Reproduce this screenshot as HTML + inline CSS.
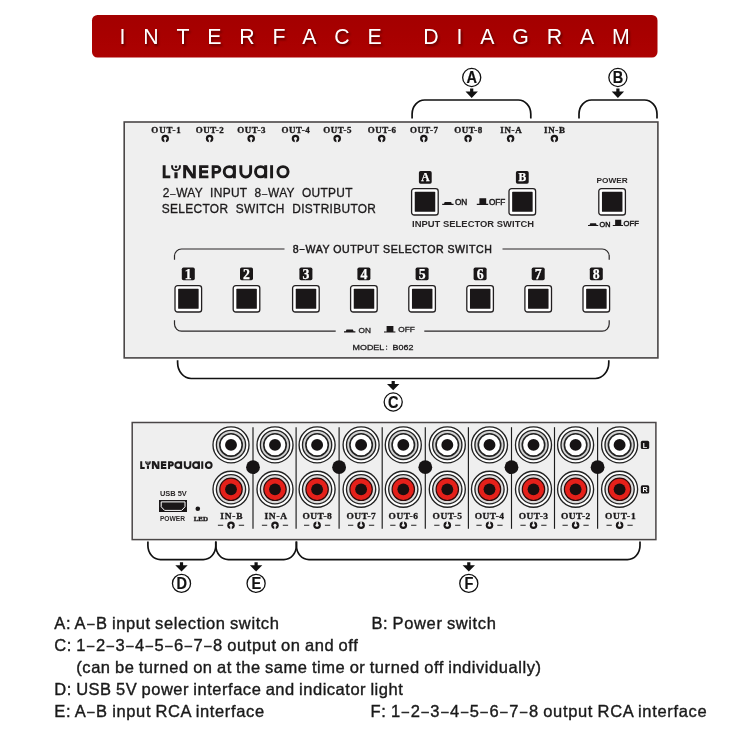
<!DOCTYPE html>
<html><head><meta charset="utf-8"><title>Interface Diagram</title>
<style>
html,body{margin:0;padding:0;background:#fff;}
body{width:750px;height:750px;overflow:hidden;font-family:"Liberation Sans",sans-serif;}
svg{display:block;font-family:"Liberation Sans",sans-serif;will-change:transform;}
</style></head><body>
<svg width="750" height="750" viewBox="0 0 750 750">
<defs>
<linearGradient id="bg" x1="0" y1="0" x2="0" y2="1"><stop offset="0" stop-color="#a30000"/><stop offset="0.5" stop-color="#a80000"/><stop offset="1" stop-color="#ad0202"/></linearGradient>
<filter id="ts" x="-20%" y="-20%" width="140%" height="160%"><feGaussianBlur stdDeviation="0.8"/></filter>
<g id="logo" fill="none" stroke="#1c1a1b" stroke-width="2.9" stroke-linecap="butt" stroke-linejoin="miter">
 <path d="M1.45 0 V11.65 H7.6"/>
 <path d="M9.4 0 V1.2 A3.9 3.9 0 0 0 17.2 1.2 V0" stroke-width="2"/>
 <circle cx="13.3" cy="1.6" r="1.25" fill="#1c1a1b" stroke="none"/>
 <path d="M13.3 7.1 V13.1" stroke-width="3.2"/>
 <path d="M21.95 0 V13.1 M31.65 0 V13.1"/>
 <path d="M20.5 0 h3.9 L33.1 13.1 h-3.9 Z" fill="#1c1a1b" stroke="none"/>
 <path d="M45.7 1.45 H37.85 V11.65 H45.7 M37.85 6.55 H45.3"/>
 <path d="M50.45 13.1 V1.45 H54.3 A2.85 2.85 0 0 1 54.3 7.15 H50.45"/>
 <circle cx="66.6" cy="6.55" r="5.1"/><path d="M71.7 0 V13.1"/>
 <path d="M78.15 0 V6.9 A4.9 4.9 0 0 0 87.95 6.9 V0"/>
 <circle cx="97.9" cy="6.55" r="5.1"/><path d="M103 0 V13.1"/>
 <path d="M108.9 0 V13.1"/>
 <circle cx="120.3" cy="6.55" r="5.1"/>
</g>
<g id="logo2" fill="none" stroke="#1c1a1b" stroke-width="3.5" stroke-linecap="butt" stroke-linejoin="miter">
 <path d="M1.45 0 V11.65 H7.6"/>
 <path d="M9.6 0 V1.3 A3.7 3.7 0 0 0 17 1.3 V0" stroke-width="2.5"/>
 <circle cx="13.3" cy="1.7" r="1.4" fill="#1c1a1b" stroke="none"/>
 <path d="M13.3 7.1 V13.1" stroke-width="3.7"/>
 <path d="M21.95 0 V13.1 M31.65 0 V13.1"/>
 <path d="M20.5 0 h4.6 L33.1 13.1 h-4.6 Z" fill="#1c1a1b" stroke="none"/>
 <path d="M45.7 1.45 H37.85 V11.65 H45.7 M37.85 6.55 H45.3"/>
 <path d="M50.45 13.1 V1.45 H54.3 A2.85 2.85 0 0 1 54.3 7.15 H50.45"/>
 <circle cx="66.6" cy="6.55" r="5.1"/><path d="M71.7 0 V13.1"/>
 <path d="M78.15 0 V6.9 A4.9 4.9 0 0 0 87.95 6.9 V0"/>
 <circle cx="97.9" cy="6.55" r="5.1"/><path d="M103 0 V13.1"/>
 <path d="M108.9 0 V13.1"/>
 <circle cx="120.3" cy="6.55" r="5.1"/>
</g>
<g id="sw"><rect x="0.6" y="0.6" width="26.6" height="26.4" rx="2.6" fill="#fff" stroke="#221f20" stroke-width="1.3"/><rect x="3.75" y="3.85" width="20.5" height="19.9" rx="0.6" fill="#1a1718"/></g>
<g id="ledin"><circle r="3.75" fill="#1a1718"/><circle r="1.55" fill="#efefef"/><rect x="-0.75" y="0" width="1.5" height="4" fill="#efefef"/></g>
<g id="ledout"><circle r="3.75" fill="#1a1718"/><circle r="1.55" fill="#efefef"/><rect x="-0.75" y="-4" width="1.5" height="4" fill="#efefef"/></g>
<g id="arrow"><path d="M-1.6 0.6 H1.6 V3.6 H6.2 L0 9.9 L-6.2 3.6 H-1.6 Z" fill="#111"/></g>
<g id="jackw"><circle r="18" fill="#fff" stroke="#222" stroke-width="1.35"/><circle r="14.6" fill="#d2d2d2" stroke="#222" stroke-width="1.35"/><circle r="11.2" fill="#fff" stroke="#222" stroke-width="1.6"/><circle r="5.95" fill="#161314"/></g>
<g id="jackr"><circle r="18" fill="#fff" stroke="#222" stroke-width="1.35"/><circle r="14.6" fill="#dcdcdc" stroke="#222" stroke-width="1.35"/><circle r="11.2" fill="#e5201a" stroke="#2a0a0a" stroke-width="1.2"/><circle r="5.9" fill="#1a0f0f"/></g>
<g id="ion"><path d="M0 3.5 H11.4 V2.4 H9.6 L8.9 0.5 H2.5 L1.8 2.4 H0 Z" fill="#1a1718"/></g>
<g id="ioff"><path d="M0 6.6 H11.4 V5.4 H9.4 V0 H2.6 V5.4 H0 Z" fill="#1a1718"/></g>
</defs>
<rect x="92" y="15" width="565.5" height="42.5" rx="5.5" fill="url(#bg)"/>
<text x="120.8" y="45.9" font-size="21.3" letter-spacing="17.85" fill="#400" opacity="0.75" filter="url(#ts)">INTERFACE DIAGRAM</text>
<text x="119.4" y="44.3" font-size="21.3" letter-spacing="17.85" fill="#fff">INTERFACE DIAGRAM</text>
<path d="M412.1 118.6 V114 A12.5 14 0 0 1 424.6 100 H518.3 A12.5 14 0 0 1 530.8 114 V118.6" fill="none" stroke="#111" stroke-width="1.7"/>
<path d="M579 118.6 V114 A12.5 14 0 0 1 591.5 100 H644.5 A12.5 14 0 0 1 657 114 V118.6" fill="none" stroke="#111" stroke-width="1.7"/>
<circle cx="471.7" cy="77.5" r="9.05" fill="#fff" stroke="#111" stroke-width="1.3"/><text transform="translate(471.85,83.10) scale(0.92,1)" text-anchor="middle" font-size="15.8" font-weight="bold" fill="#111" stroke="#111" stroke-width="0.2">A</text>
<use href="#arrow" x="471.7" y="88"/>
<circle cx="617.9" cy="77.5" r="9.05" fill="#fff" stroke="#111" stroke-width="1.3"/><text transform="translate(618.05,83.10) scale(0.92,1)" text-anchor="middle" font-size="15.8" font-weight="bold" fill="#111" stroke="#111" stroke-width="0.2">B</text>
<use href="#arrow" x="617.9" y="88"/>
<rect x="124.2" y="122" width="533.7" height="235.9" fill="#efefef" stroke="#4a4647" stroke-width="1.6"/>
<text transform="translate(151.3,132.7) scale(1.15,1)" font-family="Liberation Serif" font-weight="bold" font-size="7.8" letter-spacing="0.76" fill="#1c1a1b" stroke="#1c1a1b" stroke-width="0.3">OUT-1</text>
<use href="#ledin" x="165.2" y="138.6"/>
<text transform="translate(195.7,132.7) scale(1.15,1)" font-family="Liberation Serif" font-weight="bold" font-size="7.8" letter-spacing="0.45" fill="#1c1a1b" stroke="#1c1a1b" stroke-width="0.3">OUT-2</text>
<use href="#ledin" x="209.6" y="138.6"/>
<text transform="translate(237.3,132.7) scale(1.15,1)" font-family="Liberation Serif" font-weight="bold" font-size="7.8" letter-spacing="0.45" fill="#1c1a1b" stroke="#1c1a1b" stroke-width="0.3">OUT-3</text>
<use href="#ledin" x="251.2" y="138.6"/>
<text transform="translate(281.6,132.7) scale(1.15,1)" font-family="Liberation Serif" font-weight="bold" font-size="7.8" letter-spacing="0.45" fill="#1c1a1b" stroke="#1c1a1b" stroke-width="0.3">OUT-4</text>
<use href="#ledin" x="295.5" y="138.6"/>
<text transform="translate(323.3,132.7) scale(1.15,1)" font-family="Liberation Serif" font-weight="bold" font-size="7.8" letter-spacing="0.45" fill="#1c1a1b" stroke="#1c1a1b" stroke-width="0.3">OUT-5</text>
<use href="#ledin" x="337.2" y="138.6"/>
<text transform="translate(367.8,132.7) scale(1.15,1)" font-family="Liberation Serif" font-weight="bold" font-size="7.8" letter-spacing="0.45" fill="#1c1a1b" stroke="#1c1a1b" stroke-width="0.3">OUT-6</text>
<use href="#ledin" x="381.7" y="138.6"/>
<text transform="translate(409.9,132.7) scale(1.15,1)" font-family="Liberation Serif" font-weight="bold" font-size="7.8" letter-spacing="0.45" fill="#1c1a1b" stroke="#1c1a1b" stroke-width="0.3">OUT-7</text>
<use href="#ledin" x="423.8" y="138.6"/>
<text transform="translate(454.2,132.7) scale(1.15,1)" font-family="Liberation Serif" font-weight="bold" font-size="7.8" letter-spacing="0.45" fill="#1c1a1b" stroke="#1c1a1b" stroke-width="0.3">OUT-8</text>
<use href="#ledin" x="468.1" y="138.6"/>
<text transform="translate(500.3,132.7) scale(1.15,1)" font-family="Liberation Serif" font-weight="bold" font-size="7.8" letter-spacing="0.56" fill="#1c1a1b" stroke="#1c1a1b" stroke-width="0.3">IN-A</text>
<use href="#ledin" x="510.6" y="138.6"/>
<text transform="translate(544.1,132.7) scale(1.15,1)" font-family="Liberation Serif" font-weight="bold" font-size="7.8" letter-spacing="0.56" fill="#1c1a1b" stroke="#1c1a1b" stroke-width="0.3">IN-B</text>
<use href="#ledin" x="554.4" y="138.6"/>
<use href="#logo" x="162.7" y="165.2"/>
<text x="162.7" y="197.3" font-size="11.9" letter-spacing="0.33" word-spacing="3.75" fill="#1c1a1b" stroke="#1c1a1b" stroke-width="0.3">2<tspan font-size="9.3" dy="-0.7" dx="0.5">–</tspan><tspan dy="0.7" dx="0.5">WAY</tspan> INPUT 8<tspan font-size="9.3" dy="-0.7" dx="0.5">–</tspan><tspan dy="0.7" dx="0.5">WAY</tspan> OUTPUT</text>
<text x="161.8" y="212.7" font-size="11.9" letter-spacing="0.33" word-spacing="3.9" fill="#1c1a1b" stroke="#1c1a1b" stroke-width="0.3">SELECTOR SWITCH DISTRIBUTOR</text>
<rect x="418.9" y="171.1" width="12.8" height="12.6" rx="1.7" fill="#1a1718"/><text x="425.3" y="181.3" text-anchor="middle" font-family="Liberation Serif" font-weight="bold" font-size="11.5" fill="#fff" stroke="#fff" stroke-width="0.25">A</text>
<rect x="515.9" y="171.1" width="12.8" height="12.6" rx="1.7" fill="#1a1718"/><text x="522.3" y="181.3" text-anchor="middle" font-family="Liberation Serif" font-weight="bold" font-size="11.5" fill="#fff" stroke="#fff" stroke-width="0.25">B</text>
<use href="#sw" x="411" y="188"/>
<use href="#sw" x="508.4" y="188"/>
<use href="#ion" x="442.2" y="201.4"/>
<text x="454.9" y="205.3" font-size="8.6" textLength="12.4" lengthAdjust="spacingAndGlyphs" fill="#1c1a1b" stroke="#1c1a1b" stroke-width="0.45">ON</text>
<use href="#ioff" x="476.8" y="198.3"/>
<text x="488.9" y="204.8" font-size="8.6" textLength="16.4" lengthAdjust="spacingAndGlyphs" fill="#1c1a1b" stroke="#1c1a1b" stroke-width="0.45">OFF</text>
<text x="412" y="227.4" font-size="9.4" font-weight="bold" textLength="122" lengthAdjust="spacing" fill="#2a2728">INPUT SELECTOR SWITCH</text>
<text x="596.6" y="182.8" font-size="7.9" font-weight="bold" textLength="31.2" lengthAdjust="spacingAndGlyphs" fill="#2a2728">POWER</text>
<use href="#sw" x="598.2" y="188"/>
<g transform="translate(588,222.9) scale(0.9)"><use href="#ion"/></g>
<text x="599.6" y="226.6" font-size="7.8" textLength="10.8" lengthAdjust="spacingAndGlyphs" fill="#1c1a1b" stroke="#1c1a1b" stroke-width="0.5">ON</text>
<g transform="translate(612.8,219.8) scale(0.9,0.95)"><use href="#ioff"/></g>
<text x="623.6" y="226.1" font-size="7.8" textLength="15.2" lengthAdjust="spacingAndGlyphs" fill="#1c1a1b" stroke="#1c1a1b" stroke-width="0.5">OFF</text>
<path d="M174.5 259.8 V256 A7 7 0 0 1 181.5 249 H284.5" fill="none" stroke="#2a2728" stroke-width="1.2"/>
<path d="M502.5 249 H602.2 A7 7 0 0 1 609.2 256 V259.8" fill="none" stroke="#2a2728" stroke-width="1.2"/>
<path d="M174.5 320.3 V324.1 A7 7 0 0 0 181.5 331.1 H335.7" fill="none" stroke="#2a2728" stroke-width="1.2"/>
<path d="M424.3 331.1 H602.2 A7 7 0 0 0 609.2 324.1 V320.3" fill="none" stroke="#2a2728" stroke-width="1.2"/>
<text x="292.8" y="253" font-size="10.6" textLength="199" lengthAdjust="spacing" fill="#1c1a1b" stroke="#1c1a1b" stroke-width="0.45">8<tspan font-size="8.3" dy="-0.7" dx="0.6">–</tspan><tspan dy="0.7" dx="0.6">WAY</tspan> OUTPUT SELECTOR SWITCH</text>
<use href="#sw" x="174.4" y="285"/>
<rect x="181.8" y="267.5" width="13" height="12.8" rx="1.7" fill="#1a1718"/><text x="188.3" y="278.5" text-anchor="middle" font-family="Liberation Serif" font-weight="bold" font-size="13.8" fill="#fff" stroke="#fff" stroke-width="0.25">1</text>
<use href="#sw" x="232.6" y="285"/>
<rect x="240.0" y="267.5" width="13" height="12.8" rx="1.7" fill="#1a1718"/><text x="246.5" y="278.5" text-anchor="middle" font-family="Liberation Serif" font-weight="bold" font-size="13.8" fill="#fff" stroke="#fff" stroke-width="0.25">2</text>
<use href="#sw" x="292.0" y="285"/>
<rect x="299.4" y="267.5" width="13" height="12.8" rx="1.7" fill="#1a1718"/><text x="305.9" y="278.5" text-anchor="middle" font-family="Liberation Serif" font-weight="bold" font-size="13.8" fill="#fff" stroke="#fff" stroke-width="0.25">3</text>
<use href="#sw" x="350.0" y="285"/>
<rect x="357.4" y="267.5" width="13" height="12.8" rx="1.7" fill="#1a1718"/><text x="363.9" y="278.5" text-anchor="middle" font-family="Liberation Serif" font-weight="bold" font-size="13.8" fill="#fff" stroke="#fff" stroke-width="0.25">4</text>
<use href="#sw" x="408.2" y="285"/>
<rect x="415.6" y="267.5" width="13" height="12.8" rx="1.7" fill="#1a1718"/><text x="422.1" y="278.5" text-anchor="middle" font-family="Liberation Serif" font-weight="bold" font-size="13.8" fill="#fff" stroke="#fff" stroke-width="0.25">5</text>
<use href="#sw" x="466.2" y="285"/>
<rect x="473.6" y="267.5" width="13" height="12.8" rx="1.7" fill="#1a1718"/><text x="480.1" y="278.5" text-anchor="middle" font-family="Liberation Serif" font-weight="bold" font-size="13.8" fill="#fff" stroke="#fff" stroke-width="0.25">6</text>
<use href="#sw" x="524.3" y="285"/>
<rect x="531.7" y="267.5" width="13" height="12.8" rx="1.7" fill="#1a1718"/><text x="538.2" y="278.5" text-anchor="middle" font-family="Liberation Serif" font-weight="bold" font-size="13.8" fill="#fff" stroke="#fff" stroke-width="0.25">7</text>
<use href="#sw" x="582.4" y="285"/>
<rect x="589.8" y="267.5" width="13" height="12.8" rx="1.7" fill="#1a1718"/><text x="596.3" y="278.5" text-anchor="middle" font-family="Liberation Serif" font-weight="bold" font-size="13.8" fill="#fff" stroke="#fff" stroke-width="0.25">8</text>
<use href="#ion" x="344" y="328.9"/>
<text x="358.6" y="333" font-size="8" textLength="12.4" lengthAdjust="spacingAndGlyphs" fill="#1c1a1b" stroke="#1c1a1b" stroke-width="0.3">ON</text>
<use href="#ioff" x="384" y="326"/>
<text x="398.3" y="332.2" font-size="8" textLength="16.6" lengthAdjust="spacingAndGlyphs" fill="#1c1a1b" stroke="#1c1a1b" stroke-width="0.3">OFF</text>
<text x="352.6" y="350" font-size="8.1" textLength="31.6" lengthAdjust="spacingAndGlyphs" fill="#1c1a1b" stroke="#1c1a1b" stroke-width="0.3">MODEL</text>
<circle cx="386.6" cy="346.2" r="0.6" fill="#1c1a1b"/><circle cx="386.6" cy="349.2" r="0.6" fill="#1c1a1b"/>
<text x="392.6" y="350" font-size="8.1" textLength="20.8" lengthAdjust="spacingAndGlyphs" fill="#1c1a1b" stroke="#1c1a1b" stroke-width="0.3">B062</text>
<path d="M177.6 360.3 V362.5 A13.5 16 0 0 0 191.1 378.5 H595.3 A13.5 16 0 0 0 608.8 362.5 V360.3" fill="none" stroke="#111" stroke-width="1.7"/>
<use href="#arrow" x="393.2" y="380.3"/>
<circle cx="393.2" cy="402" r="9.05" fill="#fff" stroke="#111" stroke-width="1.3"/><text transform="translate(393.35,407.60) scale(0.92,1)" text-anchor="middle" font-size="15.8" font-weight="bold" fill="#111" stroke="#111" stroke-width="0.2">C</text>
<rect x="132.2" y="422.5" width="523.7" height="117.1" fill="#efefef" stroke="#4a4647" stroke-width="1.5"/>
<g transform="translate(140.4,461.3) scale(0.568,0.58)"><use href="#logo2"/></g>
<path d="M253.0 427.2 V528.8" stroke="#1c1c1c" stroke-width="1.15"/>
<circle cx="253.0" cy="467.2" r="6.9" fill="#161314"/>
<path d="M296.1 427.2 V528.8" stroke="#1c1c1c" stroke-width="1.15"/>
<path d="M339.1 427.2 V528.8" stroke="#1c1c1c" stroke-width="1.15"/>
<circle cx="339.1" cy="467.2" r="6.9" fill="#161314"/>
<path d="M382.2 427.2 V528.8" stroke="#1c1c1c" stroke-width="1.15"/>
<path d="M425.3 427.2 V528.8" stroke="#1c1c1c" stroke-width="1.15"/>
<circle cx="425.3" cy="467.2" r="6.9" fill="#161314"/>
<path d="M468.4 427.2 V528.8" stroke="#1c1c1c" stroke-width="1.15"/>
<path d="M511.5 427.2 V528.8" stroke="#1c1c1c" stroke-width="1.15"/>
<circle cx="511.5" cy="467.2" r="6.9" fill="#161314"/>
<path d="M554.5 427.2 V528.8" stroke="#1c1c1c" stroke-width="1.15"/>
<path d="M597.6 427.2 V528.8" stroke="#1c1c1c" stroke-width="1.15"/>
<circle cx="597.6" cy="467.2" r="6.9" fill="#161314"/>
<use href="#jackw" x="231.0" y="444.9"/>
<use href="#jackr" x="231.0" y="489.3"/>
<text transform="translate(220.3,518.7) scale(1.15,1)" font-family="Liberation Serif" font-weight="bold" font-size="8.2" letter-spacing="0.66" fill="#1c1a1b" stroke="#1c1a1b" stroke-width="0.3">IN-B</text>
<g transform="translate(231.0,525.3) scale(1.0)"><use href="#ledin"/></g>
<path d="M217.9 525.3 h5.3 M238.8 525.3 h5.3" stroke="#222" stroke-width="1.1"/>
<use href="#jackw" x="275.0" y="444.9"/>
<use href="#jackr" x="275.0" y="489.3"/>
<text transform="translate(264.4,518.7) scale(1.15,1)" font-family="Liberation Serif" font-weight="bold" font-size="8.2" letter-spacing="0.66" fill="#1c1a1b" stroke="#1c1a1b" stroke-width="0.3">IN-A</text>
<g transform="translate(275.0,525.3) scale(1.0)"><use href="#ledin"/></g>
<path d="M261.9 525.3 h5.3 M282.8 525.3 h5.3" stroke="#222" stroke-width="1.1"/>
<use href="#jackw" x="317.1" y="444.9"/>
<use href="#jackr" x="317.1" y="489.3"/>
<text transform="translate(302.4,518.7) scale(1.15,1)" font-family="Liberation Serif" font-weight="bold" font-size="8.2" letter-spacing="0.42" fill="#1c1a1b" stroke="#1c1a1b" stroke-width="0.3">OUT-8</text>
<g transform="translate(317.1,525.3) scale(1.0)"><use href="#ledout"/></g>
<path d="M304.0 525.3 h5.3 M324.9 525.3 h5.3" stroke="#222" stroke-width="1.1"/>
<use href="#jackw" x="361.1" y="444.9"/>
<use href="#jackr" x="361.1" y="489.3"/>
<text transform="translate(346.4,518.7) scale(1.15,1)" font-family="Liberation Serif" font-weight="bold" font-size="8.2" letter-spacing="0.42" fill="#1c1a1b" stroke="#1c1a1b" stroke-width="0.3">OUT-7</text>
<g transform="translate(361.1,525.3) scale(1.0)"><use href="#ledout"/></g>
<path d="M348.0 525.3 h5.3 M368.9 525.3 h5.3" stroke="#222" stroke-width="1.1"/>
<use href="#jackw" x="403.3" y="444.9"/>
<use href="#jackr" x="403.3" y="489.3"/>
<text transform="translate(388.6,518.7) scale(1.15,1)" font-family="Liberation Serif" font-weight="bold" font-size="8.2" letter-spacing="0.42" fill="#1c1a1b" stroke="#1c1a1b" stroke-width="0.3">OUT-6</text>
<g transform="translate(403.3,525.3) scale(1.0)"><use href="#ledout"/></g>
<path d="M390.2 525.3 h5.3 M411.1 525.3 h5.3" stroke="#222" stroke-width="1.1"/>
<use href="#jackw" x="447.3" y="444.9"/>
<use href="#jackr" x="447.3" y="489.3"/>
<text transform="translate(432.6,518.7) scale(1.15,1)" font-family="Liberation Serif" font-weight="bold" font-size="8.2" letter-spacing="0.42" fill="#1c1a1b" stroke="#1c1a1b" stroke-width="0.3">OUT-5</text>
<g transform="translate(447.3,525.3) scale(1.0)"><use href="#ledout"/></g>
<path d="M434.2 525.3 h5.3 M455.1 525.3 h5.3" stroke="#222" stroke-width="1.1"/>
<use href="#jackw" x="489.5" y="444.9"/>
<use href="#jackr" x="489.5" y="489.3"/>
<text transform="translate(474.7,518.7) scale(1.15,1)" font-family="Liberation Serif" font-weight="bold" font-size="8.2" letter-spacing="0.42" fill="#1c1a1b" stroke="#1c1a1b" stroke-width="0.3">OUT-4</text>
<g transform="translate(489.5,525.3) scale(1.0)"><use href="#ledout"/></g>
<path d="M476.4 525.3 h5.3 M497.3 525.3 h5.3" stroke="#222" stroke-width="1.1"/>
<use href="#jackw" x="533.5" y="444.9"/>
<use href="#jackr" x="533.5" y="489.3"/>
<text transform="translate(518.7,518.7) scale(1.15,1)" font-family="Liberation Serif" font-weight="bold" font-size="8.2" letter-spacing="0.42" fill="#1c1a1b" stroke="#1c1a1b" stroke-width="0.3">OUT-3</text>
<g transform="translate(533.5,525.3) scale(1.0)"><use href="#ledout"/></g>
<path d="M520.4 525.3 h5.3 M541.2 525.3 h5.3" stroke="#222" stroke-width="1.1"/>
<use href="#jackw" x="575.6" y="444.9"/>
<use href="#jackr" x="575.6" y="489.3"/>
<text transform="translate(560.9,518.7) scale(1.15,1)" font-family="Liberation Serif" font-weight="bold" font-size="8.2" letter-spacing="0.42" fill="#1c1a1b" stroke="#1c1a1b" stroke-width="0.3">OUT-2</text>
<g transform="translate(575.6,525.3) scale(1.0)"><use href="#ledout"/></g>
<path d="M562.5 525.3 h5.3 M583.4 525.3 h5.3" stroke="#222" stroke-width="1.1"/>
<use href="#jackw" x="619.6" y="444.9"/>
<use href="#jackr" x="619.6" y="489.3"/>
<text transform="translate(604.9,518.7) scale(1.15,1)" font-family="Liberation Serif" font-weight="bold" font-size="8.2" letter-spacing="0.72" fill="#1c1a1b" stroke="#1c1a1b" stroke-width="0.3">OUT-1</text>
<g transform="translate(619.6,525.3) scale(1.0)"><use href="#ledout"/></g>
<path d="M606.5 525.3 h5.3 M627.4 525.3 h5.3" stroke="#222" stroke-width="1.1"/>
<rect x="640.8" y="440.79999999999995" width="8.4" height="8.2" rx="1.6" fill="#1a1718"/><text x="645" y="447.5" text-anchor="middle" font-size="7.2" font-weight="bold" fill="#fff">L</text>
<rect x="640.8" y="485.29999999999995" width="8.4" height="8.2" rx="1.6" fill="#1a1718"/><text x="645" y="492.0" text-anchor="middle" font-size="7.2" font-weight="bold" fill="#fff">R</text>
<text x="159.9" y="495.7" font-size="8" font-weight="bold" textLength="26.9" lengthAdjust="spacingAndGlyphs" fill="#2a2728">USB 5V</text>
<rect x="159" y="500" width="28" height="12" fill="#1a1718"/>
<path d="M161.2 501.9 H185 V506.8 L181.6 510.4 H164.6 L161.2 506.8 Z" fill="#1a1718" stroke="#fff" stroke-width="1"/>
<text x="159.9" y="521.1" font-size="7.3" font-weight="bold" textLength="25.2" lengthAdjust="spacingAndGlyphs" fill="#2a2728">POWER</text>
<circle cx="197.8" cy="508.7" r="2.3" fill="#1a1718"/>
<text x="193.7" y="520.8" font-family="Liberation Serif" font-weight="bold" font-size="7.15" textLength="14.4" lengthAdjust="spacingAndGlyphs" fill="#1c1a1b" stroke="#1c1a1b" stroke-width="0.35">LED</text>
<path d="M147.9 541.6 V545.6 A12.5 14 0 0 0 160.4 559.6 H203.3 A12.5 14 0 0 0 215.8 545.6 V541.6" fill="none" stroke="#111" stroke-width="1.7"/>
<path d="M215.8 541.6 V545.6 A12.5 14 0 0 0 228.3 559.6 H283.9 A12.5 14 0 0 0 296.4 545.6 V541.6" fill="none" stroke="#111" stroke-width="1.7"/>
<path d="M296.4 541.6 V545.6 A12.5 14 0 0 0 308.9 559.6 H627.5 A12.5 14 0 0 0 640 545.6 V541.6" fill="none" stroke="#111" stroke-width="1.7"/>
<use href="#arrow" x="181.5" y="561.6"/>
<circle cx="181.5" cy="583.4" r="9.05" fill="#fff" stroke="#111" stroke-width="1.3"/><text transform="translate(181.65,589.00) scale(0.92,1)" text-anchor="middle" font-size="15.8" font-weight="bold" fill="#111" stroke="#111" stroke-width="0.2">D</text>
<use href="#arrow" x="256.1" y="561.6"/>
<circle cx="256.1" cy="583.4" r="9.05" fill="#fff" stroke="#111" stroke-width="1.3"/><text transform="translate(256.25,589.00) scale(0.92,1)" text-anchor="middle" font-size="15.8" font-weight="bold" fill="#111" stroke="#111" stroke-width="0.2">E</text>
<use href="#arrow" x="468.8" y="561.6"/>
<circle cx="468.8" cy="583.4" r="9.05" fill="#fff" stroke="#111" stroke-width="1.3"/><text transform="translate(468.95,589.00) scale(0.92,1)" text-anchor="middle" font-size="15.8" font-weight="bold" fill="#111" stroke="#111" stroke-width="0.2">F</text>
<text x="54.3" y="629" font-size="16.5" letter-spacing="0.6" word-spacing="-0.8" fill="#1a1a1a" stroke="#1a1a1a" stroke-width="0.38">A: A<tspan font-size="13" dx="0.97" dy="-1.1">–</tspan><tspan dx="0.97" dy="1.1">B</tspan> input selection switch</text>
<text x="371.4" y="629" font-size="16.5" letter-spacing="0.62" word-spacing="-0.8" fill="#1a1a1a" stroke="#1a1a1a" stroke-width="0.38">B: Power switch</text>
<text x="54.3" y="650.8" font-size="16.5" letter-spacing="0.589" word-spacing="-0.8" fill="#1a1a1a" stroke="#1a1a1a" stroke-width="0.38">C: 1<tspan font-size="13" dx="0.97" dy="-1.1">–</tspan><tspan dx="0.97" dy="1.1">2</tspan><tspan font-size="13" dx="0.97" dy="-1.1">–</tspan><tspan dx="0.97" dy="1.1">3</tspan><tspan font-size="13" dx="0.97" dy="-1.1">–</tspan><tspan dx="0.97" dy="1.1">4</tspan><tspan font-size="13" dx="0.97" dy="-1.1">–</tspan><tspan dx="0.97" dy="1.1">5</tspan><tspan font-size="13" dx="0.97" dy="-1.1">–</tspan><tspan dx="0.97" dy="1.1">6</tspan><tspan font-size="13" dx="0.97" dy="-1.1">–</tspan><tspan dx="0.97" dy="1.1">7</tspan><tspan font-size="13" dx="0.97" dy="-1.1">–</tspan><tspan dx="0.97" dy="1.1">8</tspan> output on and off</text>
<text x="76.3" y="673" font-size="16.5" letter-spacing="0.55" word-spacing="-0.8" fill="#1a1a1a" stroke="#1a1a1a" stroke-width="0.38">(can be turned on at the same time or turned off individually)</text>
<text x="54.3" y="695" font-size="16.5" letter-spacing="0.523" word-spacing="-0.8" fill="#1a1a1a" stroke="#1a1a1a" stroke-width="0.38">D: USB 5V power interface and indicator light</text>
<text x="54.3" y="717" font-size="16.5" letter-spacing="0.63" word-spacing="-0.8" fill="#1a1a1a" stroke="#1a1a1a" stroke-width="0.38">E: A<tspan font-size="13" dx="0.97" dy="-1.1">–</tspan><tspan dx="0.97" dy="1.1">B</tspan> input RCA interface</text>
<text x="370.5" y="717" font-size="16.5" letter-spacing="0.67" word-spacing="-0.8" fill="#1a1a1a" stroke="#1a1a1a" stroke-width="0.38">F: 1<tspan font-size="13" dx="0.97" dy="-1.1">–</tspan><tspan dx="0.97" dy="1.1">2</tspan><tspan font-size="13" dx="0.97" dy="-1.1">–</tspan><tspan dx="0.97" dy="1.1">3</tspan><tspan font-size="13" dx="0.97" dy="-1.1">–</tspan><tspan dx="0.97" dy="1.1">4</tspan><tspan font-size="13" dx="0.97" dy="-1.1">–</tspan><tspan dx="0.97" dy="1.1">5</tspan><tspan font-size="13" dx="0.97" dy="-1.1">–</tspan><tspan dx="0.97" dy="1.1">6</tspan><tspan font-size="13" dx="0.97" dy="-1.1">–</tspan><tspan dx="0.97" dy="1.1">7</tspan><tspan font-size="13" dx="0.97" dy="-1.1">–</tspan><tspan dx="0.97" dy="1.1">8</tspan> output RCA interface</text>
</svg>
</body></html>
